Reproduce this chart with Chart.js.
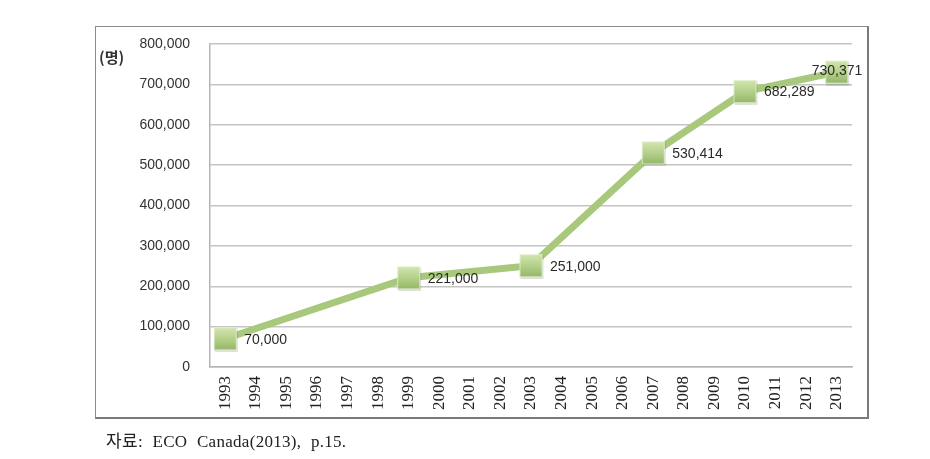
<!DOCTYPE html>
<html>
<head>
<meta charset="utf-8">
<script src="https://cdn.jsdelivr.net/npm/chart.js@4"></script>
<style>
  body { margin: 0; background: #fff; width: 930px; height: 459px; position: relative; overflow: hidden; }
  #frame { position: absolute; left: 95px; top: 26px; width: 771px; height: 390px;
    border: 1px solid #8c8c8c; border-right: 2px solid #7a7a7a; border-bottom: 2px solid #7a7a7a; }
  #chart { position: absolute; left: 0; top: 0; }
  #source { position: absolute; left: 106px; top: 427px; font: 17px "Liberation Serif", "Noto Sans CJK KR", serif;
    letter-spacing: 0.3px; word-spacing: 5px; color: #222; }
</style>
</head>
<body>
<div id="frame"></div>
<canvas id="chart" width="930" height="459"></canvas>
<div id="source">자료: ECO Canada(2013), p.15.</div>
<script>
const years = ["1993", "1994", "1995", "1996", "1997", "1998", "1999", "2000", "2001", "2002", "2003",
  "2004", "2005", "2006", "2007", "2008", "2009", "2010", "2011", "2012", "2013"];
const workers = [70000, null, null, null, null, null, 221000, null, null, null, 251000,
  null, null, null, 530414, null, null, 682289, null, null, 730371];
const yMax = 800000;
const yStep = 100000;

// square marker with a soft green gradient
function makeMarker() {
  const c = document.createElement("canvas");
  c.width = 27;
  c.height = 27;
  const g = c.getContext("2d");
  g.fillStyle = "rgba(0,0,0,0.12)";
  g.fillRect(3, 3, 23, 24);
  const grad = g.createLinearGradient(2, 2, 2, 25);
  grad.addColorStop(0, "#d3e6b0");
  grad.addColorStop(0.45, "#b8d38f");
  grad.addColorStop(1, "#94b766");
  g.fillStyle = grad;
  g.fillRect(2, 2, 23, 23);
  g.strokeStyle = "rgba(235,245,220,0.7)";
  g.lineWidth = 1;
  g.strokeRect(2.5, 2.5, 22, 22);
  return c;
}

const valueLabels = {
  id: "valueLabels",
  afterDatasetsDraw(chart) {
    const ctx = chart.ctx;
    const meta = chart.getDatasetMeta(0);
    ctx.save();
    ctx.font = '14px "Liberation Sans", Arial, sans-serif';
    ctx.fillStyle = "#2a2a2a";
    ctx.textBaseline = "middle";
    ctx.textAlign = "left";
    meta.data.forEach((pt, i) => {
      const v = workers[i];
      if (v == null) return;
      const last = i === workers.length - 1;
      const dx = last ? -25 : 19;
      const dy = last ? -1 : 1;
      ctx.fillText(v.toLocaleString("en-US"), pt.x + dx, pt.y + dy);
    });
    ctx.restore();
  },
};

const unitLabel = {
  id: "unitLabel",
  afterDraw(chart) {
    const ctx = chart.ctx;
    ctx.save();
    ctx.font = 'bold 15px "Noto Sans CJK KR", sans-serif';
    ctx.fillStyle = "#333";
    ctx.textBaseline = "middle";
    ctx.fillText("(명)", 99, 57);
    ctx.restore();
  },
};

new Chart(document.getElementById("chart"), {
  type: "line",
  data: {
    labels: years,
    datasets: [
      {
        data: workers,
        borderColor: "#a8c87c",
        borderWidth: 7,
        spanGaps: true,
        tension: 0,
        pointStyle: makeMarker(),
        pointRadius: 12,
      },
    ],
  },
  options: {
    responsive: false,
    animation: false,
    layout: { padding: { left: 100, right: 78, top: 44, bottom: 32 } },
    scales: {
      x: {
        offset: true,
        grid: { display: false, drawTicks: false },
        border: { color: "#b5b5b5", width: 1.5 },
        ticks: {
          minRotation: 90,
          maxRotation: 90,
          padding: 9,
          color: "#222",
          font: { family: '"Liberation Serif", serif', size: 17 },
        },
        afterFit(axis) { axis.height = 60; },
      },
      y: {
        min: 0,
        max: yMax,
        ticks: {
          stepSize: yStep,
          padding: 20,
          color: "#333",
          font: { family: '"Liberation Sans", Arial, sans-serif', size: 14 },
          callback: (v) => v.toLocaleString("en-US"),
        },
        grid: { color: "#c4c4c4", lineWidth: 1.5, drawTicks: false },
        border: { color: "#b5b5b5", width: 1.5 },
        afterFit(axis) { axis.width = 110; },
      },
    },
    plugins: {
      legend: { display: false },
      tooltip: { enabled: false },
    },
  },
  plugins: [valueLabels, unitLabel],
});
</script>
</body>
</html>
